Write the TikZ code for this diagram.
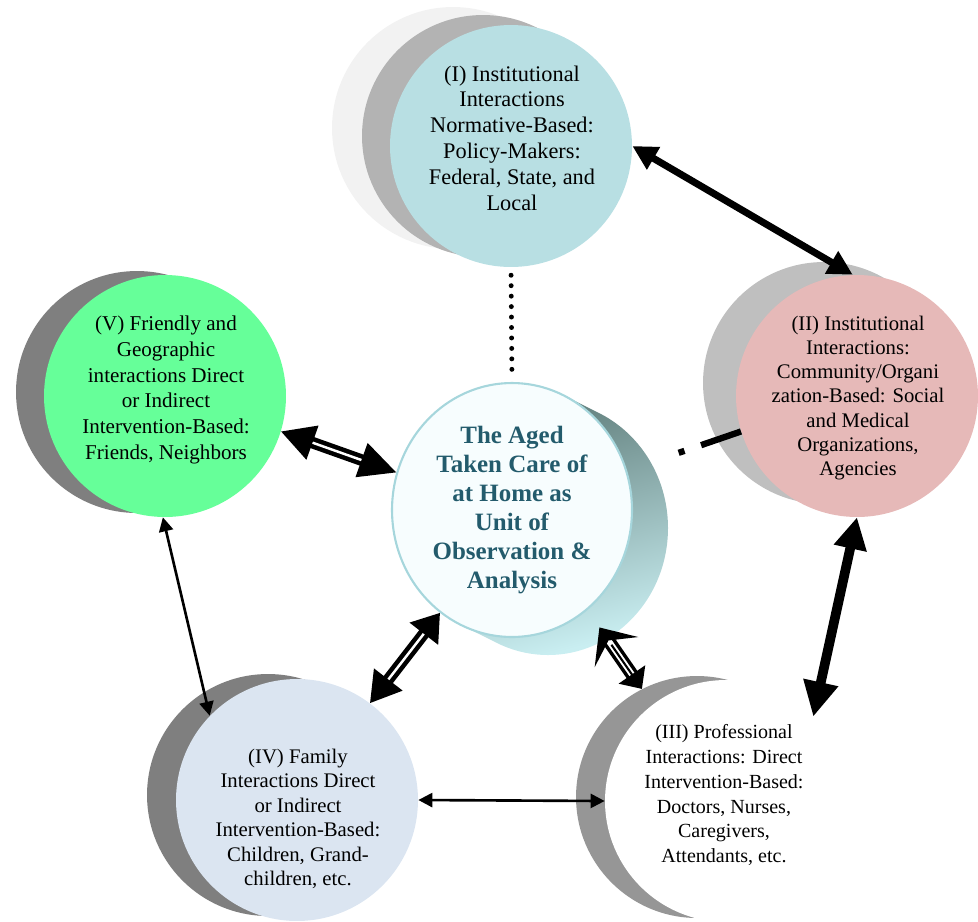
\documentclass[tikz,border=0pt]{standalone}
\usepackage{fontspec}
\setmainfont{Liberation Serif}
\newfontfamily\discfont{Liberation Serif}
\usetikzlibrary{arrows.meta,shapes.geometric}

\definecolor{instblue}{HTML}{B8DFE3}
\definecolor{orgpink}{HTML}{E6B9B8}
\definecolor{friendgreen}{HTML}{66FF99}
\definecolor{familyblue}{HTML}{DBE5F1}
\definecolor{agedteal}{HTML}{235B6C}
\definecolor{agedface}{HTML}{F7FDFE}
\definecolor{rimteal}{HTML}{A6D6DC}
\definecolor{sidedark}{HTML}{55726F}
\definecolor{sidemid}{HTML}{80A4A6}
\definecolor{sidelight}{HTML}{C9EEF1}
\definecolor{backpale}{HTML}{F2F2F2}
\definecolor{backmid}{HTML}{B3B3B3}
\definecolor{backlight}{HTML}{BFBFBF}
\definecolor{backdark}{HTML}{7F7F7F}
\definecolor{backgrey}{HTML}{969696}

\tikzset{
  disc/.style={circle, minimum size=4.84cm, inner sep=0pt},
  txt/.style={align=center, inner sep=0pt, font=\discfont\fontsize{11.8}{13.9}\selectfont},
  bold arrow/.style={line width=4pt, {Triangle[length=14pt,width=14pt]}-{Triangle[length=14pt,width=14pt]}},
  heavy arrow/.style={line width=5.5pt, {Triangle[length=18pt,width=18pt]}-{Triangle[length=20pt,width=19pt]}},
  twin arrow/.style={line width=2.6pt, double=white, double distance=1.4pt},
  thin arrow/.style={line width=1.5pt, {Triangle[length=8pt,width=8pt]}-{Triangle[length=8pt,width=8pt]}}
}

\begin{document}
\begin{tikzpicture}[x=0.02cm, y=-0.02cm]
\useasboundingbox (0,0) rectangle (978,921);
\clip (0,0) rectangle (978,921);

% Discs and their back copies
\node[disc, fill=backpale] (I-bb) at (453,128) {};
\node[disc, fill=backmid] (I-b) at (483,136) {};
\node[disc, fill=instblue] (I) at (511,146) {};

\node[disc, fill=backdark] (V-b) at (137,392) {};
\node[disc, fill=friendgreen] (V) at (165,396) {};

\node[disc, fill=backlight] (II-b) at (824,383) {};
\node[disc, fill=orgpink] (II) at (857,396) {};

\node[disc, fill=backdark] (IV-b) at (268,795) {};
\node[disc, fill=familyblue] (IV) at (297,800) {};

\node[disc, fill=backgrey] (III-b) at (697,797) {};
\node[disc, fill=white] (III) at (726,801) {};

% Texts
\node[txt, font=\discfont\fontsize{12.7}{14.7}\selectfont] (I-t) at (512,138) {(I) Institutional\\Interactions\\Normative-Based:\\Policy-Makers:\\Federal, State, and\\Local};
\node[txt, font=\discfont\fontsize{12}{14.6}\selectfont] (V-t) at (166,390) {(V) Friendly and\\Geographic\\interactions Direct\\or Indirect\\Intervention-Based:\\Friends, Neighbors};
\node[txt, font=\discfont\fontsize{11.8}{13.8}\selectfont] (II-t) at (858,398) {(II) Institutional\\Interactions:\\Community/Organi\\zation-Based: Social\\and Medical\\Organizations,\\Agencies};
\node[txt] (IV-t) at (298,819) {(IV) Family\\Interactions Direct\\or Indirect\\Intervention-Based:\\Children, Grand-\\children, etc.};
\node[txt, font=\discfont\fontsize{11.4}{14.2}\selectfont] (III-t) at (724,795) {(III) Professional\\Interactions: Direct\\Intervention-Based:\\Doctors, Nurses,\\Caregivers,\\Attendants, etc.};

% Dotted and dash-dot links
\coordinate (C-c) at (512,510);
\draw[line width=3.6pt, dash pattern=on 24pt off 10pt on 3.5pt off 80pt] (II.197) -- (C-c);

% The aged, as a thick disc
\shade[top color=sidedark, middle color=sidemid, bottom color=sidelight, shading angle=15]
  \foreach \t in {0,0.05,...,1.01} {(512+36*\t, 510+18*\t) ellipse [x radius=120, y radius=127]};
\node[ellipse, minimum width=4.8cm, minimum height=5.08cm, inner sep=0pt,
      fill=agedface, draw=rimteal, line width=1.2pt,
      align=center, text=agedteal, font=\discfont\bfseries\fontsize{14.2}{16.4}\selectfont] (C) at (C-c)
  {The Aged\\Taken Care of\\at Home as\\Unit of\\Observation \&\\Analysis};

\draw[line width=2.8pt, line cap=round, dash pattern=on 0pt off 5.95pt, shorten <=4.5pt, shorten >=4.5pt] (I.south) -- (C.north);

% Arrows
\draw[bold arrow] (I.east) -- (II.92);
\draw[heavy arrow] (II.south) -- (III.44);
\draw[twin arrow, {Triangle[length=19pt,width=20pt]}-{Triangle[length=21pt,width=20pt]}] (V.-17) -- (C.162);
\draw[twin arrow, {Triangle[length=15pt,width=20pt]}-{Triangle[length=17pt,width=20pt]}] (C.235) -- (IV.53);
\draw[line width=2pt, double=white, double distance=3.4pt, shorten >=12pt,
      {Triangle[length=10pt,width=18pt]}-{Stealth[length=17pt,width=30pt,inset=8pt]}] (III-b.117) -- (C.-53);
\draw[line width=1.2pt, shorten <=9pt, shorten >=24pt] (III-b.117) -- (C.-53);
\draw[thin arrow] (V.-91) -- (IV.136);
\draw[thin arrow] (IV.east) -- (III.west);

\end{tikzpicture}
\end{document}
